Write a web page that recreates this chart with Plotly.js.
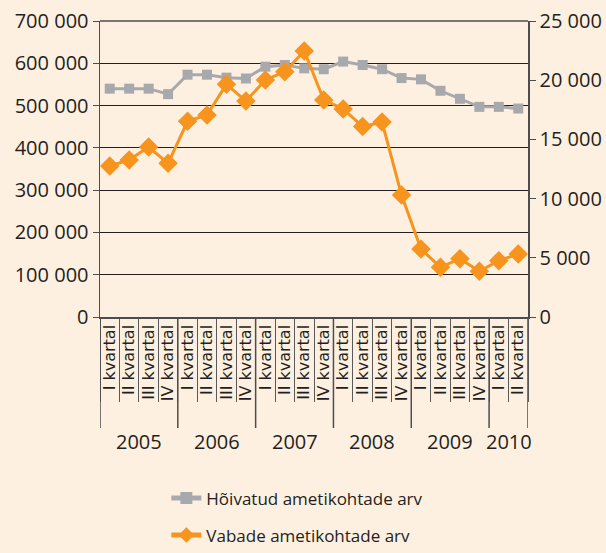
<!DOCTYPE html>
<html>
<head>
<meta charset="utf-8">
<script src="https://cdn.plot.ly/plotly-3.0.1.min.js"></script>
<style>html,body{margin:0;padding:0;background:#fdf0e1;}</style>
</head>
<body>
<div id="chart" style="width:606px;height:553px;"></div>
<script>
// ---- data ----
const years = ['2005', '2006', '2007', '2008', '2009', '2010'];
const quartersPerYear = [4, 4, 4, 4, 4, 2];
const quarterNames = ['I kvartal', 'II kvartal', 'III kvartal', 'IV kvartal'];
const occupiedName = 'Hõivatud ametikohtade arv';
const vacantName = 'Vabade ametikohtade arv';
const occupied = [540000, 540000, 540000, 527000, 573000, 573000, 566000, 564000,
                  592000, 596000, 588000, 586000, 604000, 596000, 586000, 565000,
                  562000, 535000, 516000, 497000, 497000, 493000];
const vacant = [12750, 13260, 14360, 12980, 16530, 17060, 19650, 18240,
                20020, 20720, 22470, 18330, 17570, 16080, 16470, 10300,
                5740, 4200, 4930, 3860, 4760, 5320];

// ---- derived categories ----
const categories = [];
const quarterLabels = [];
years.forEach((y, yi) => {
  for (let q = 0; q < quartersPerYear[yi]; q++) {
    categories.push(y + ' ' + quarterNames[q]);
    quarterLabels.push(quarterNames[q]);
  }
});

const FONT = 'Open Sans';
const TXT = '#231f20';
const AXC = '#4d4d4f';

const traces = [
  {
    x: categories, y: occupied, name: occupiedName, type: 'scatter', mode: 'lines+markers',
    yaxis: 'y', legendgroup: 'a',
    line: {color: '#a7a9ac', width: 3},
    marker: {symbol: 'square', size: 10, color: '#a7a9ac'}
  },
  {
    x: categories, y: vacant, name: vacantName, type: 'scatter', mode: 'lines+markers',
    yaxis: 'y2', legendgroup: 'b',
    line: {color: '#f7941d', width: 3},
    marker: {symbol: 'diamond', size: 15, color: '#f7941d'}
  }
];

// year dividers & labels
const shapes = [];
const annotations = [];
let start = 0;
years.forEach((y, yi) => {
  const n = quartersPerYear[yi];
  shapes.push({type: 'line', xref: 'x', yref: 'paper', x0: start - 0.5, x1: start - 0.5,
               y0: 0, y1: -0.375, line: {color: AXC, width: 1.5}});
  annotations.push({xref: 'x', yref: 'paper', x: start + (n - 1) / 2, y: -0.422,
                    text: y, showarrow: false, yanchor: 'middle', xanchor: 'center',
                    font: {family: FONT, size: 20, color: TXT}});
  start += n;
});
shapes.push({type: 'line', xref: 'x', yref: 'paper', x0: start - 0.5, x1: start - 0.5,
             y0: 0, y1: -0.375, line: {color: AXC, width: 1.5}});
// top border line
shapes.push({type: 'line', xref: 'paper', yref: 'paper', x0: 0, x1: 1, y0: 1, y1: 1,
             line: {color: AXC, width: 1.5}});

const layout = {
  width: 606, height: 553,
  margin: {l: 100, r: 78, t: 21, b: 236, autoexpand: false},
  paper_bgcolor: '#fdf0e1', plot_bgcolor: '#fdf0e1',
  separators: ', ',
  font: {family: FONT, color: TXT},
  showlegend: true,
  legend: {
    orientation: 'v', x: 0.155, y: -0.552, xanchor: 'left', yanchor: 'top',
    traceorder: 'grouped', tracegroupgap: 12, bgcolor: 'rgba(0,0,0,0)',
    itemsizing: 'constant',
    font: {family: FONT, size: 17, color: TXT}
  },
  xaxis: {
    type: 'category', range: [-0.5, categories.length - 0.5],
    tickvals: categories, ticktext: quarterLabels, tickangle: -90,
    ticks: 'outside', tickson: 'boundaries', ticklen: 83, tickwidth: 1, tickcolor: '#58595b',
    ticklabelstandoff: 0,
    showline: true, linecolor: AXC, linewidth: 1.5, showgrid: false, automargin: false,
    tickfont: {family: 'DejaVu Sans', size: 16, color: TXT}
  },
  yaxis: {
    range: [0, 700000], dtick: 100000, tickformat: ',d',
    showgrid: true, gridcolor: '#231f20', gridwidth: 1, zeroline: false,
    showline: true, linecolor: AXC, linewidth: 1.5,
    ticks: 'outside', ticklen: 6, tickcolor: AXC, automargin: false,
    tickfont: {family: FONT, size: 20, color: TXT}
  },
  yaxis2: {
    overlaying: 'y', side: 'right', range: [0, 25000], dtick: 5000, tickformat: ',d',
    showgrid: false, zeroline: false,
    showline: true, linecolor: AXC, linewidth: 1.5,
    ticks: 'outside', ticklen: 6, tickcolor: AXC, automargin: false,
    tickfont: {family: FONT, size: 20, color: TXT}
  },
  shapes: shapes,
  annotations: annotations
};

Plotly.newPlot('chart', traces, layout, {displayModeBar: false, staticPlot: true});
</script>
</body>
</html>
